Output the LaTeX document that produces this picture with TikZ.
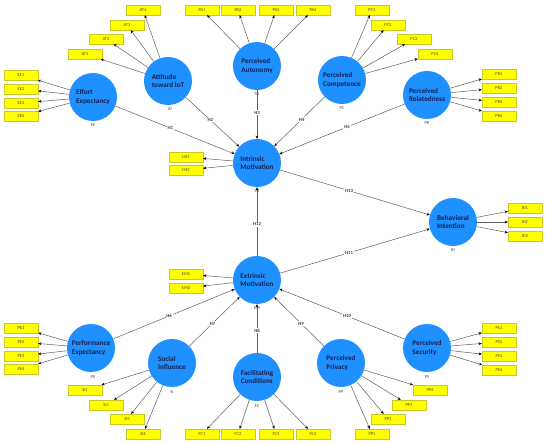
\documentclass[tikz,border=0pt]{standalone}
\usepackage{fontspec}
\setmainfont{Carlito}
\usetikzlibrary{arrows.meta}
\definecolor{lvblue}{RGB}{30,144,255}
\definecolor{lvtext}{RGB}{22,32,80}
\definecolor{boxyel}{RGB}{255,255,0}
\definecolor{boxedge}{RGB}{200,200,40}
\definecolor{linegray}{RGB}{95,95,95}
\tikzset{
  lv/.style={circle, fill=lvblue, minimum size=48pt, inner sep=0pt, text=lvtext,
    font=\bfseries\fontsize{7.2}{8.4}\selectfont, align=left},
  ind/.style={rectangle, fill=boxyel, draw=boxedge, line width=0.3pt, minimum width=34pt,
    minimum height=10pt, inner sep=0pt, font=\fontsize{4.5}{5}\selectfont, text=black!70},
  abbr/.style={font=\fontsize{4.5}{5}\selectfont, text=black!70, inner sep=0pt},
  arr/.style={draw=linegray, line width=0.5pt, -{Stealth[length=3.2pt,width=2.8pt,color=black]}},
  hl/.style={fill=white, font=\bfseries\fontsize{4.8}{5}\selectfont, text=black!75, inner sep=0.8pt, pos=0.46}
}
\begin{document}
\begin{tikzpicture}[x=1pt,y=-1pt]
\useasboundingbox (0,0) rectangle (550,444);
% latent variables
\node[lv] (EE) at (93,97) {Effort\\Expectancy};
\node[lv] (AT) at (168,81) {Attitude\\toward IoT};
\node[lv] (PA) at (257,66) {Perceived\\Autonomy};
\node[lv] (PC) at (342,80) {Perceived\\Competence};
\node[lv] (PR) at (427,95) {Perceived\\Relatedness};
\node[lv] (IM) at (257,163) {Intrinsic\\Motivation};
\node[lv] (BI) at (453,222) {Behavioral\\Intention};
\node[lv] (EM) at (257,280) {Extrinsic\\Motivation};
\node[lv] (PE) at (91,348) {Performance\\Expectancy};
\node[lv] (SI) at (172,363) {Social\\Influence};
\node[lv] (FC) at (257,377) {Facilitating\\Conditions};
\node[lv] (PP) at (341,363) {Perceived\\Privacy};
\node[lv] (PS) at (427,348) {Perceived\\Security};
% abbreviations
\node[abbr] (lEE) at (93,125) {EE};
\node[abbr] (lAT) at (170,109) {AT};
\node[abbr] (lPA) at (257,94) {PA};
\node[abbr] (lPC) at (342,108) {PC};
\node[abbr] (lPR) at (427,123) {PR};
\node[abbr] (lIM) at (257,191) {IM};
\node[abbr] (lBI) at (453,250) {BI};
\node[abbr] (lEM) at (257,308) {EM};
\node[abbr] (lPE) at (93,377) {PE};
\node[abbr] (lSI) at (172,392) {SI};
\node[abbr] (lFC) at (257,406) {FC};
\node[abbr] (lPP) at (341,392) {PP};
\node[abbr] (lPS) at (427,377) {PS};
% indicators
\node[ind] (AT1) at (85,54) {AT1};
\node[ind] (AT2) at (106,39) {AT2};
\node[ind] (AT3) at (127,25) {AT3};
\node[ind] (AT4) at (143,10) {AT4};
\node[ind] (EE1) at (21,75) {EE1};
\node[ind] (EE2) at (21,89) {EE2};
\node[ind] (EE3) at (21,103) {EE3};
\node[ind] (EE4) at (21,116) {EE4};
\node[ind] (PA1) at (202,10) {PA1};
\node[ind] (PA2) at (238,10) {PA2};
\node[ind] (PA3) at (276,10) {PA3};
\node[ind] (PA4) at (313,10) {PA4};
\node[ind] (PC1) at (372,10) {PC1};
\node[ind] (PC2) at (388,25) {PC2};
\node[ind] (PC3) at (414,39) {PC3};
\node[ind] (PC4) at (435,54) {PC4};
\node[ind] (PR1) at (499,74) {PR1};
\node[ind] (PR2) at (499,88) {PR2};
\node[ind] (PR3) at (499,102) {PR3};
\node[ind] (PR4) at (499,116) {PR4};
\node[ind] (IM1) at (186,157) {IM1};
\node[ind] (IM2) at (186,170) {IM2};
\node[ind] (BI1) at (525,208) {BI1};
\node[ind] (BI2) at (525,222) {BI2};
\node[ind] (BI3) at (525,236) {BI3};
\node[ind] (EM1) at (186,274) {EM1};
\node[ind] (EM2) at (186,288) {EM2};
\node[ind] (PE1) at (21,328) {PE1};
\node[ind] (PE2) at (21,342) {PE2};
\node[ind] (PE3) at (21,356) {PE3};
\node[ind] (PE4) at (21,369) {PE4};
\node[ind] (SI1) at (85,390) {SI1};
\node[ind] (SI2) at (106,405) {SI2};
\node[ind] (SI3) at (127,419) {SI3};
\node[ind] (SI4) at (143,434) {SI4};
\node[ind] (FC1) at (202,434) {FC1};
\node[ind] (FC2) at (238,434) {FC2};
\node[ind] (FC3) at (276,434) {FC3};
\node[ind] (FC4) at (313,434) {FC4};
\node[ind] (PP1) at (372,434) {PP1};
\node[ind] (PP2) at (388,419) {PP2};
\node[ind] (PP3) at (409,405) {PP3};
\node[ind] (PP4) at (430,390) {PP4};
\node[ind] (PS1) at (499,328) {PS1};
\node[ind] (PS2) at (499,342) {PS2};
\node[ind] (PS3) at (499,356) {PS3};
\node[ind] (PS4) at (499,370) {PS4};
% measurement arrows
\foreach \lv/\n in {AT/4, EE/4, PA/4, PC/4, PR/4, IM/2, BI/3, EM/2, PE/4, SI/4, FC/4, PP/4, PS/4}{
  \foreach \i in {1,...,\n}{
    \draw[arr] (\lv) -- (\lv\i);
  }
}
% structural paths
\draw[arr] (EE) -- node[hl]{H1} (IM);
\draw[arr] (AT) -- node[hl]{H2} (IM);
\draw[arr] (PA) -- node[hl]{H3} (IM);
\draw[arr] (PC) -- node[hl]{H4} (IM);
\draw[arr] (PR) -- node[hl]{H5} (IM);
\draw[arr] (PE) -- node[hl]{H6} (EM);
\draw[arr] (SI) -- node[hl]{H7} (EM);
\draw[arr] (FC) -- node[hl]{H8} (EM);
\draw[arr] (PP) -- node[hl]{H9} (EM);
\draw[arr] (PS) -- node[hl]{H10} (EM);
\draw[arr] (EM) -- node[hl]{H11} (BI);
\draw[arr] (EM) -- node[hl]{H12} (IM);
\draw[arr] (IM) -- node[hl]{H13} (BI);
\end{tikzpicture}
\end{document}
